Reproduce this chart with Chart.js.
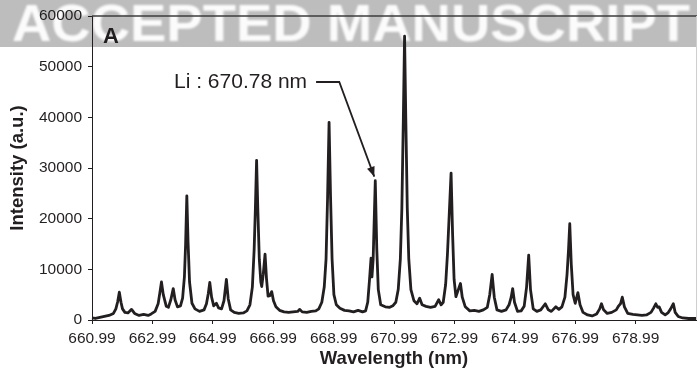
<!DOCTYPE html>
<html>
<head>
<meta charset="utf-8">
<script src="https://cdn.jsdelivr.net/npm/chart.js@4.4.0/dist/chart.umd.min.js"></script>
<style>
  html, body { margin: 0; padding: 0; background: #ffffff; }
  #wrap { width: 697px; height: 372px; position: relative; }
</style>
</head>
<body>
<div id="wrap"><canvas id="spectrum" width="697" height="372"></canvas></div>
<script>
// Emission spectrum, 660.99 – 680.99 nm
const wavelengths = [
  660.99, 661.10, 661.25, 661.40, 661.55, 661.70, 661.78, 661.84, 661.895, 661.95,
  662.00, 662.08, 662.18, 662.30, 662.40, 662.55, 662.70, 662.85, 662.95, 663.08,
  663.18, 663.24, 663.29, 663.35, 663.45, 663.52, 663.60, 663.68, 663.74, 663.82,
  663.92, 663.99, 664.05, 664.09, 664.13, 664.17, 664.22, 664.30, 664.40, 664.55,
  664.70, 664.78, 664.84, 664.89, 664.95, 665.02, 665.11, 665.18, 665.28, 665.36,
  665.44, 665.50, 665.58, 665.70, 665.85, 666.00, 666.12, 666.22, 666.30, 666.36,
  666.40, 666.44, 666.48, 666.53, 666.58, 666.61, 666.66, 666.72, 666.77, 666.82,
  666.88, 666.94, 667.00, 667.08, 667.20, 667.35, 667.50, 667.65, 667.80, 667.87,
  667.95, 668.10, 668.25, 668.40, 668.50, 668.60, 668.68, 668.74, 668.79, 668.84,
  668.89, 668.94, 669.00, 669.08, 669.20, 669.35, 669.50, 669.65, 669.80, 669.95,
  670.05, 670.12, 670.18, 670.23, 670.26, 670.30, 670.37, 670.42, 670.47, 670.55,
  670.70, 670.85, 670.95, 671.05, 671.13, 671.20, 671.25, 671.30, 671.34, 671.38,
  671.43, 671.48, 671.55, 671.65, 671.75, 671.84, 671.92, 672.05, 672.20, 672.35,
  672.47, 672.55, 672.62, 672.70, 672.76, 672.82, 672.88, 672.93, 672.98, 673.04,
  673.12, 673.19, 673.25, 673.35, 673.50, 673.65, 673.80, 673.95, 674.08, 674.16,
  674.24, 674.31, 674.40, 674.55, 674.70, 674.80, 674.87, 674.92, 674.98, 675.08,
  675.20, 675.30, 675.38, 675.45, 675.51, 675.60, 675.72, 675.85, 676.00, 676.10,
  676.20, 676.35, 676.45, 676.55, 676.65, 676.72, 676.77, 676.81, 676.86, 676.92,
  676.99, 677.08, 677.15, 677.25, 677.40, 677.55, 677.70, 677.80, 677.86, 677.93,
  678.05, 678.20, 678.35, 678.43, 678.49, 678.55, 678.62, 678.73, 678.90, 679.05,
  679.20, 679.35, 679.50, 679.58, 679.66, 679.72, 679.77, 679.85, 679.97, 680.06,
  680.15, 680.24, 680.30, 680.40, 680.55, 680.75, 680.99
];

const intensities = [
  400, 300, 500, 700, 900, 1300, 2200, 3600, 5500, 3500,
  2200, 1500, 1400, 2100, 1300, 900, 1100, 900, 1200, 1700,
  3200, 5500, 7500, 5000, 2700, 2500, 4000, 6200, 4000, 2600,
  2800, 4300, 8500, 15000, 24500, 15500, 7500, 3300, 2200, 1700,
  2000, 3200, 5200, 7400, 4500, 2800, 3300, 2400, 2200, 3800,
  8000, 4200, 2000, 1500, 1300, 1400, 1800, 3000, 6500, 14000,
  22000, 31500, 22000, 12000, 7500, 6600, 9000, 13000, 8000, 4700,
  4800, 5600, 3800, 2600, 1900, 1600, 1500, 1600, 1700, 2100,
  1600, 1500, 1700, 1800, 2200, 3500, 6500, 12000, 24000, 39000,
  24000, 12000, 5000, 3000, 2300, 1900, 1800, 1600, 1900, 1600,
  1800, 3500, 8000, 12200, 8500, 12000, 27500, 14000, 6000, 3000,
  2600, 2500, 2800, 3500, 6000, 12000, 22000, 40000, 56000, 40000,
  22000, 12000, 6000, 3800, 3200, 4300, 3000, 2700, 2500, 2700,
  4000, 3000, 3500, 7000, 13000, 21000, 29000, 17000, 8000, 4600,
  6000, 7200, 4500, 2600, 1800, 1900, 1700, 2000, 2500, 5000,
  9000, 4500, 2000, 1700, 2000, 3000, 4500, 6200, 3500, 1700,
  1800, 2700, 6500, 12800, 6000, 2200, 1700, 2000, 3200, 2000,
  1700, 2600, 2100, 2600, 4500, 9000, 14000, 19000, 11000, 5000,
  3300, 5400, 3000, 1500, 1000, 800, 1200, 2200, 3200, 2000,
  1300, 1500, 2000, 2800, 3200, 4500, 2600, 1300, 1100, 1000,
  900, 1000, 1500, 2300, 3200, 2500, 2600, 1500, 1000, 1400,
  2200, 3200, 1500, 700, 400, 300, 300
];

const xTickValues = [660.99, 662.99, 664.99, 666.99, 668.99, 670.99, 672.99, 674.99, 676.99, 678.99];
const yTickValues = [0, 10000, 20000, 30000, 40000, 50000, 60000];

const panelLetter = 'A';
const lineName = 'Li : 670.78 nm';
const lineWavelength = 670.78;
const watermarkText = 'ACCEPTED MANUSCRIPT';

const ink = '#231f20';
const fontFamily = '"Liberation Sans", Arial, Helvetica, sans-serif';

// Local maximum of the spectrum closest to a given wavelength
function nearestPeakIndex(target) {
  let best = -1, bestDist = Infinity;
  for (let i = 1; i < intensities.length - 1; i++) {
    if (intensities[i] > intensities[i - 1] && intensities[i] >= intensities[i + 1] && intensities[i] > 10000) {
      const d = Math.abs(wavelengths[i] - target);
      if (d < bestDist) { bestDist = d; best = i; }
    }
  }
  return best;
}

// Grey banner with white lettering behind the plot
const bannerPlugin = {
  id: 'banner',
  beforeDraw(chart) {
    const ctx = chart.ctx;
    ctx.save();
    ctx.fillStyle = '#bdbdbd';
    ctx.fillRect(0, 0, chart.width, 47);
    ctx.filter = 'blur(0.9px)';
    ctx.font = 'bold 52px ' + fontFamily;
    ctx.fillStyle = '#fbfbfb';
    ctx.textBaseline = 'alphabetic';
    const w = ctx.measureText(watermarkText).width;
    ctx.translate(12, 40.5);
    ctx.scale(678 / w, 1);
    ctx.fillText(watermarkText, 0, 0);
    ctx.restore();
  }
};

// Frame top edge, panel letter and the line annotation with its arrow
const annotationPlugin = {
  id: 'annotations',
  afterDraw(chart) {
    const ctx = chart.ctx;
    const area = chart.chartArea;
    const xs = chart.scales.x, ys = chart.scales.y;
    ctx.save();

    ctx.strokeStyle = '#3c3c3c';
    ctx.lineWidth = 1.5;
    ctx.beginPath();
    ctx.moveTo(area.left, area.top);
    ctx.lineTo(chart.width, area.top);
    ctx.stroke();

    ctx.strokeStyle = '#cfcfcf';
    ctx.lineWidth = 1;
    ctx.beginPath();
    ctx.moveTo(area.right + 0.5, area.top);
    ctx.lineTo(area.right + 0.5, area.bottom);
    ctx.stroke();

    ctx.fillStyle = ink;
    ctx.font = 'bold 22px ' + fontFamily;
    ctx.textBaseline = 'alphabetic';
    ctx.fillText(panelLetter, area.left + 11, area.top + 27);

    ctx.font = '21px ' + fontFamily;
    ctx.fillText(lineName, area.left + 82, area.top + 72);
    const textEnd = area.left + 82 + ctx.measureText(lineName).width;

    const pi = nearestPeakIndex(lineWavelength);
    const tipX = xs.getPixelForValue(wavelengths[pi]) - 1;
    const tipY = ys.getPixelForValue(intensities[pi]) - 4;
    const elbowX = tipX - 35;
    const elbowY = area.top + 66;

    ctx.strokeStyle = ink;
    ctx.lineWidth = 1.8;
    ctx.beginPath();
    ctx.moveTo(textEnd + 9, elbowY);
    ctx.lineTo(elbowX, elbowY);
    ctx.lineTo(tipX, tipY);
    ctx.stroke();

    const ang = Math.atan2(tipY - elbowY, tipX - elbowX);
    const len = 10, half = 4;
    ctx.beginPath();
    ctx.moveTo(tipX, tipY);
    ctx.lineTo(tipX - len * Math.cos(ang) + half * Math.sin(ang), tipY - len * Math.sin(ang) - half * Math.cos(ang));
    ctx.lineTo(tipX - len * Math.cos(ang) - half * Math.sin(ang), tipY - len * Math.sin(ang) + half * Math.cos(ang));
    ctx.closePath();
    ctx.fill();

    ctx.restore();
  }
};

new Chart(document.getElementById('spectrum'), {
  type: 'line',
  data: {
    datasets: [{
      data: wavelengths.map((w, i) => ({ x: w, y: intensities[i] })),
      borderColor: ink,
      borderWidth: 2.8,
      borderJoinStyle: 'round',
      pointRadius: 0,
      tension: 0,
      fill: false,
      clip: false
    }]
  },
  options: {
    responsive: false,
    animation: false,
    devicePixelRatio: 1,
    layout: { padding: { top: 16, right: 1, left: 0, bottom: 0 } },
    plugins: { legend: { display: false }, tooltip: { enabled: false } },
    scales: {
      x: {
        type: 'linear',
        min: 660.99,
        max: 680.99,
        afterBuildTicks(scale) { scale.ticks = xTickValues.map(v => ({ value: v })); },
        afterFit(scale) { scale.height = 52; },
        ticks: {
          autoSkip: false,
          maxRotation: 0,
          padding: 5,
          color: ink,
          font: { family: fontFamily, size: 15.5 },
          callback: v => Number(v).toFixed(2)
        },
        grid: { display: true, drawOnChartArea: false, drawTicks: true, tickLength: 4, color: ink, lineWidth: 1 },
        border: { display: true, color: ink, width: 1 },
        title: {
          display: true,
          text: 'Wavelength (nm)',
          color: ink,
          font: { family: fontFamily, size: 18.5, weight: 'bold' },
          padding: { top: 0, bottom: 2 }
        }
      },
      y: {
        min: 0,
        max: 60000,
        afterBuildTicks(scale) { scale.ticks = yTickValues.map(v => ({ value: v })); },
        afterFit(scale) { scale.width = 92; },
        ticks: {
          padding: 6,
          color: ink,
          font: { family: fontFamily, size: 15.5 },
          callback: v => String(v)
        },
        grid: { display: true, drawOnChartArea: false, drawTicks: true, tickLength: 4, color: ink, lineWidth: 1 },
        border: { display: true, color: ink, width: 1 },
        title: {
          display: true,
          text: 'Intensity (a.u.)',
          color: ink,
          font: { family: fontFamily, size: 18.5, weight: 'bold' },
          padding: { top: 7, bottom: 0 }
        }
      }
    }
  },
  plugins: [bannerPlugin, annotationPlugin]
});
</script>
</body>
</html>
